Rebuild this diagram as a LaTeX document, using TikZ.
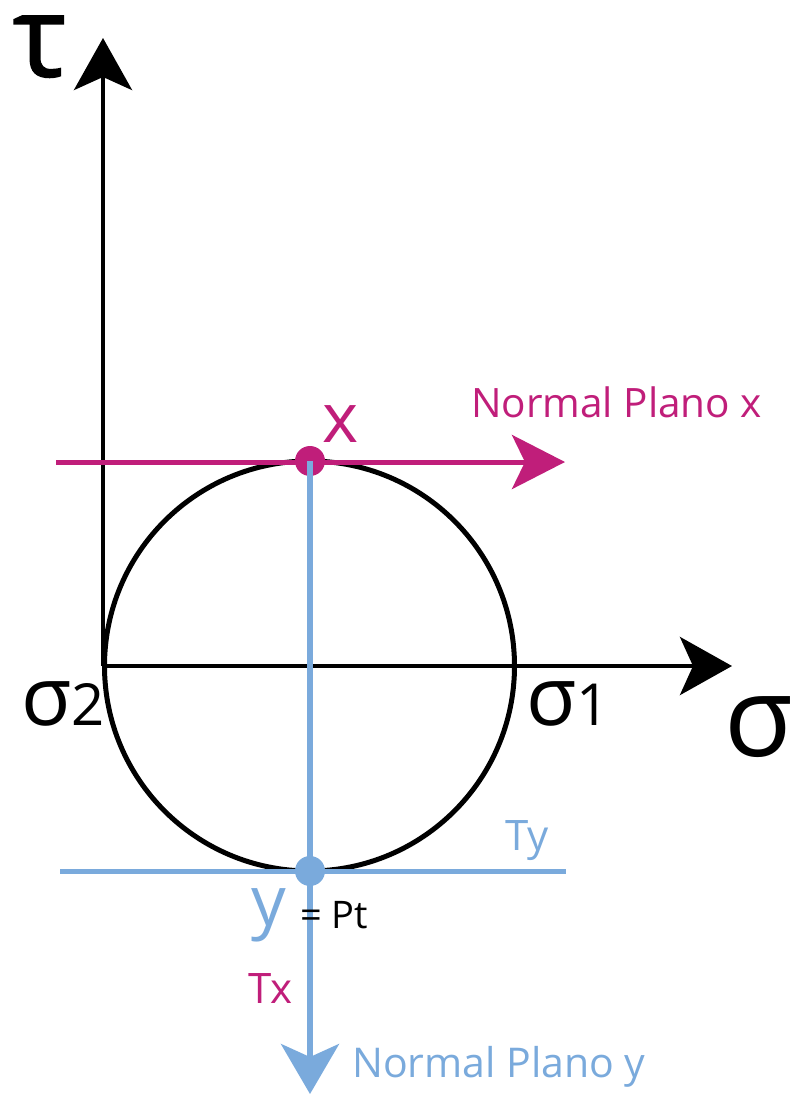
\documentclass[tikz,border=0pt]{standalone}
\usepackage{fontspec}
\setmainfont{Open Sans}
\newfontfamily\heavyfont[FakeBold=1.6]{Open Sans}
\usepackage{tikz}
\usetikzlibrary{arrows.meta,positioning}
\definecolor{planox}{RGB}{192,30,122}
\definecolor{planoy}{RGB}{122,170,220}
\tikzset{
  axis/.style={black, line width=4.5pt,
               -{Stealth[length=52pt, width=58pt, inset=13pt]}},
  mohr/.style={black, line width=5pt},
  normx/.style={planox, line width=5pt,
                -{Stealth[length=53pt, width=54pt, inset=13pt]}},
  normy/.style={planoy, line width=5.5pt,
                -{Stealth[length=50pt, width=58pt, inset=13pt]}},
  tany/.style={planoy, line width=5pt},
  pole/.style={circle, inner sep=0pt, minimum size=30pt},
  lab/.style={inner sep=0pt, anchor=base west},
}
\newcommand{\fs}[1]{\fontsize{#1}{#1}\selectfont}

\begin{document}
\begin{tikzpicture}[x=1pt,y=-1pt]
  \path[use as bounding box] (0,0) rectangle (796,1100);

  % Key points of the Mohr circle.
  \coordinate (O) at (103,666);
  \coordinate (C) at (309.5,666);
  \coordinate (tautip) at (103,38);
  \coordinate (sigtip) at (732,666);
  \coordinate (xl) at (56,462);
  \coordinate (xr) at (565,462);
  \coordinate (yl) at (60,871);
  \coordinate (yr) at (566,871);
  \coordinate (ytip) at (310,1094);

  % Circle and axes.
  \draw[mohr] (C) circle[radius=205];
  \draw[axis] (O) -- (tautip);
  \draw[axis] (O) -- (sigtip);

  % Normal to plane x and tangent through the pole.
  \draw[normx] (xl) -- (xr);
  \draw[tany] (yl) -- (yr);
  \node[pole, fill=planox] (X) at (310,461) {};
  \draw[normy] (X.center) -- (ytip);
  \node[pole, fill=planoy] (Y) at (310,871) {};

  % Axis labels.
  \node[lab] (tau) at (13,76) {\heavyfont\fs{112}τ};
  \node[lab] (sig) at (724,756) {\fs{112}σ};
  \node[lab] (sig2) at (21,725) {\fs{82}σ\fs{58}2};
  \node[lab] (sig1) at (526,725) {\fs{82}σ\fs{58}1};

  % Plane labels.
  \node[lab, text=planox] (xlab) at (322,442) {\fs{69}x};
  \node[lab, text=planox] (nx) at (471,417) {\fs{40.5}Normal Plano x};
  \node[lab, text=planoy] (ylab) at (251,925) {\fs{69}y};
  \node[lab] (pt) at (300,928) {\fs{38}= Pt};
  \node[lab, text=planoy] (ty) at (505,850) {\fs{42}Ty};
  \node[lab, text=planox] (tx) at (248,1003) {\fs{42}Tx};
  \node[lab, text=planoy] (ny) at (352,1077) {\fs{41}Normal Plano y};
\end{tikzpicture}
\end{document}
